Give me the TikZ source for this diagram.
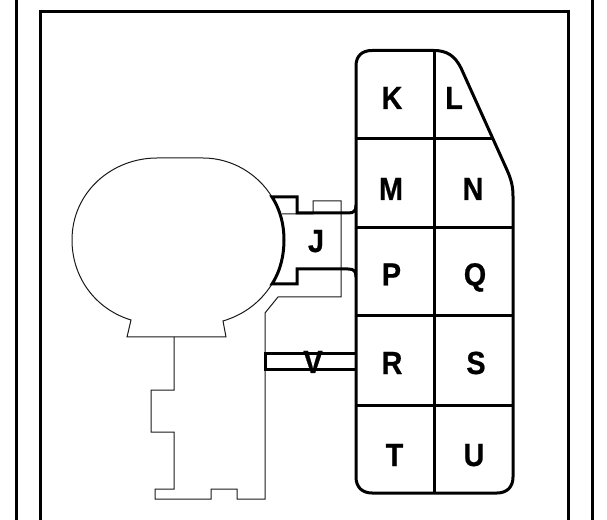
\documentclass[tikz,border=0pt]{standalone}
\usepackage{fontspec}
\setmainfont{Liberation Sans}
\newfontfamily\labelfont{Liberation Sans Bold}[FakeBold=0.7]
\tikzset{
  heavy/.style={line width=2.25pt,black,line join=miter},
  fine/.style={line width=0.75pt,black!90,line join=miter},
  letter/.style={inner sep=0pt,anchor=base,font=\labelfont\fontsize{24}{24}\selectfont,text=black,xscale=0.9}
}
\begin{document}
\begin{tikzpicture}[x=0.75pt,y=-0.75pt]
\useasboundingbox (0,0) rectangle (607,520);
% frame
\draw[heavy] (16,0) -- (16,520);
\draw[heavy] (592,0) -- (592,520);
\draw[heavy] (40,520) -- (40,11.5) -- (568,11.5) -- (568,520);
% body outline
\draw[fine] (157,158) -- (203,158)
  .. controls (232,158) and (258,174) .. (272,197)
  .. controls (281,211) and (284,226) .. (284,240)
  .. controls (284,254) and (281,270) .. (272,284)
  .. controls (260,303) and (243,315) .. (223,321)
  -- (226,337) -- (127,337) -- (131,320)
  .. controls (95,309) and (72,277) .. (72,240)
  .. controls (72,192) and (112,158) .. (157,158) -- cycle;
% lower housing
\draw[fine] (282,214) -- (313,214) -- (313,201) -- (341,201) -- (341,297) -- (278,297)
  -- (265,313) -- (265,499) -- (237,499) -- (237,489) -- (211,489) -- (211,499)
  -- (155,499) -- (155,489) -- (174,489) -- (174,432) -- (151,432) -- (151,390)
  -- (174,390) -- (174,337);
% J bracket
\draw[heavy] (356,205) .. controls (356,211) and (354,213) .. (348,213) -- (297,213) -- (297,197) -- (272,197)
  .. controls (281,211) and (284,226) .. (284,240)
  .. controls (284,254) and (281,270) .. (272,284)
  -- (297,284) -- (297,269) -- (348,269) .. controls (354,269) and (356,271) .. (356,277);
% V bar
\draw[heavy] (356,354) -- (265,354) -- (265,369) -- (356,369);
% panel
\draw[heavy,fill=white] (356,66) .. controls (356,56) and (362,50.5) .. (372,50.5) -- (434,50.5)
  .. controls (447,50.5) and (455,56) .. (461,68)
  -- (507,170) .. controls (511,179) and (513,186) .. (513,196)
  -- (513,477) .. controls (513,487) and (507,493) .. (497,493)
  -- (372,493) .. controls (362,493) and (356,487) .. (356,477) -- cycle;
\draw[heavy] (434,50.5) -- (434,493);
\draw[heavy] (356,139) -- (493,139);
\draw[heavy] (356,228) -- (513,228);
\draw[heavy] (356,316) -- (513,316);
\draw[heavy] (356,405) -- (513,405);
% labels
\node[letter] (k) at (392,109) {K};
\node[letter] (l) at (454,109) {L};
\node[letter] (m) at (391,200) {M};
\node[letter] (n) at (473,200) {N};
\node[letter] (p) at (391.5,285.5) {P};
\node[letter] (q) at (475,285.5) {Q};
\node[letter] (r) at (392,374) {R};
\node[letter] (s) at (476,374) {S};
\node[letter] (t) at (394.5,466) {T};
\node[letter] (u) at (474,466) {U};
\node[letter] (j) at (316,252) {J};
\node[letter] (v) at (313,373) {V};
\end{tikzpicture}
\end{document}
